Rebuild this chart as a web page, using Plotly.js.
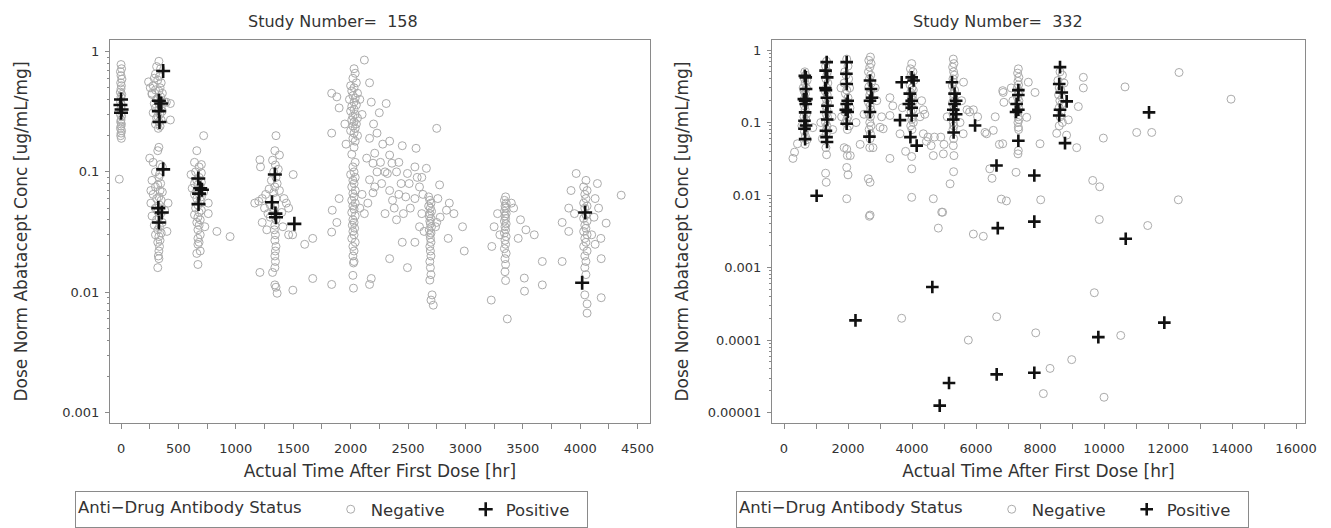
<!DOCTYPE html>
<html><head><meta charset="utf-8">
<script src="https://cdn.plot.ly/plotly-3.0.1.min.js"></script>
<style>html,body{margin:0;padding:0;background:#fff}#chart{width:1331px;height:528px}</style>
</head><body><div id="chart"></div>
<script>
// ---- Data: [time (hr), dose-normalized conc (ug/mL/mg)] ----
const studyNumbers = ['158', '332'];
const statusLabels = ['Negative', 'Positive'];

const study158Negative = [
 [0,0.78],[5,0.72],[-5,0.68],[0,0.63],[8,0.59],[-3,0.55],[3,0.52],[0,0.49],[-6,0.46],[6,0.44],[0,0.42],[-4,0.38],[4,0.36],[0,0.34],[-5,0.3],[5,0.29],[0,0.27],[-3,0.26],[3,0.25],[0,0.24],[-5,0.23],[5,0.22],[0,0.21],[-3,0.2],[3,0.19],[-15,0.087],
 [330,0.83],[310,0.75],[345,0.72],[300,0.65],[335,0.62],[290,0.6],[320,0.58],[350,0.55],[280,0.52],[340,0.5],[300,0.48],[330,0.47],[360,0.45],[270,0.44],[345,0.42],[320,0.41],[310,0.4],[380,0.38],[290,0.37],[335,0.36],[350,0.35],[300,0.34],[330,0.33],[360,0.32],[280,0.31],[340,0.3],[320,0.29],[310,0.28],[350,0.27],[330,0.26],[430,0.27],[300,0.25],[340,0.24],[325,0.23],[240,0.56],[270,0.45],[395,0.38],[255,0.5],[430,0.37],
 [330,0.16],[320,0.15],[250,0.13],[280,0.12],[340,0.115],[360,0.11],[300,0.1],[335,0.095],[330,0.09],[270,0.085],[345,0.08],[320,0.078],[300,0.075],[340,0.07],[360,0.068],[280,0.065],[330,0.062],[310,0.06],[350,0.058],[260,0.055],[335,0.053],[300,0.05],[380,0.048],[320,0.047],[345,0.045],[270,0.043],[330,0.042],[310,0.04],[360,0.038],[290,0.036],[335,0.035],[320,0.033],[400,0.032],[350,0.031],[300,0.03],[330,0.029],[340,0.027],[320,0.026],[335,0.024],[330,0.022],[325,0.02],[330,0.019],[320,0.016],[410,0.055],[260,0.07],
 [720,0.2],[660,0.15],[640,0.12],[700,0.115],[680,0.11],[650,0.1],[700,0.098],[610,0.095],[680,0.09],[660,0.085],[700,0.082],[640,0.08],[670,0.078],[690,0.075],[620,0.073],[660,0.07],[720,0.068],[680,0.066],[640,0.065],[700,0.062],[660,0.06],[690,0.058],[760,0.055],[670,0.053],[650,0.05],[700,0.048],[680,0.046],[640,0.044],[670,0.042],[690,0.04],[660,0.038],[680,0.036],[730,0.035],[835,0.032],[670,0.033],[950,0.029],[690,0.03],[670,0.028],[680,0.026],[670,0.025],[690,0.022],[660,0.021],[670,0.017],[760,0.045],
 [1210,0.126],[1215,0.11],[1350,0.2],[1340,0.15],[1380,0.138],[1320,0.125],[1345,0.114],[1370,0.105],[1500,0.095],[1330,0.1],[1350,0.09],[1310,0.085],[1360,0.08],[1340,0.075],[1290,0.072],[1380,0.07],[1330,0.067],[1165,0.055],[1200,0.057],[1230,0.06],[1260,0.065],[1250,0.05],[1300,0.053],[1420,0.06],[1440,0.055],[1460,0.05],[1350,0.06],[1340,0.052],[1330,0.048],[1345,0.044],[1350,0.04],[1340,0.036],[1335,0.033],[1345,0.03],[1340,0.027],[1350,0.024],[1345,0.022],[1340,0.02],[1345,0.018],[1340,0.016],[1270,0.033],[1230,0.038],[1300,0.042],[1410,0.035],[1460,0.03],[1495,0.03],[1600,0.025],[1670,0.028],[1210,0.0146],[1320,0.0146],[1340,0.0115],[1350,0.011],[1360,0.0098],[1497,0.0104],[1670,0.013],[1400,0.046],[1280,0.045],
 [1835,0.45],[1835,0.21],[1900,0.34],[1880,0.42],[2040,0.66],[2030,0.72],[2020,0.6],[2050,0.55],[2000,0.52],[2030,0.5],[2010,0.47],[2060,0.45],[2020,0.43],[2040,0.41],[1990,0.4],[2030,0.38],[2050,0.36],[2010,0.35],[2030,0.33],[2000,0.32],[2040,0.3],[2020,0.29],[2060,0.28],[2010,0.27],[2030,0.26],[2050,0.25],[2020,0.24],[2040,0.23],[2000,0.22],[2030,0.21],[2060,0.2],[2020,0.19],[2040,0.18],[1960,0.17],[2080,0.4],[2100,0.3],[1950,0.25],[2120,0.85],[2165,0.55],[2180,0.38],
 [2030,0.16],[2010,0.14],[2040,0.12],[2020,0.11],[2030,0.1],[2000,0.095],[2040,0.09],[2020,0.085],[2030,0.08],[2010,0.075],[2040,0.07],[2020,0.066],[2030,0.062],[2010,0.058],[2040,0.055],[2020,0.052],[2030,0.049],[2010,0.046],[2040,0.043],[2020,0.04],[2030,0.038],[2015,0.036],[2035,0.034],[2020,0.032],[2030,0.03],[2010,0.028],[2040,0.026],[2020,0.024],[2030,0.022],[2020,0.02],[2030,0.018],[2025,0.0175],[2020,0.0138],[2025,0.0108],[1835,0.0316],[1835,0.0116],[1840,0.048],[1900,0.06],[1880,0.038],[2080,0.05],[2100,0.065],
 [2165,0.19],[2140,0.13],[2210,0.143],[2195,0.118],[2340,0.138],[2360,0.118],[2320,0.097],[2340,0.07],[2365,0.058],[2495,0.097],[2510,0.08],[2480,0.062],[2520,0.05],[2660,0.107],[2620,0.09],[2680,0.062],[2775,0.078],[2835,0.048],[2750,0.038],[2165,0.086],[2195,0.067],[2150,0.055],[2120,0.045],[2250,0.31],[2310,0.37],[2340,0.18],[2450,0.165],[2570,0.157],[2750,0.23],[2200,0.25],[2230,0.21],[2280,0.17],[2260,0.12],[2300,0.1],[2270,0.08],[2420,0.12],[2400,0.1],[2440,0.08],[2420,0.065],[2560,0.11],[2580,0.09],[2600,0.075],[2560,0.06],[2230,0.1],[2210,0.075],[2380,0.05],[2460,0.045],[2340,0.019],[2495,0.016],[2165,0.0116],[2180,0.013],[2450,0.026],[2400,0.04],[2300,0.045],
 [2690,0.058],[2700,0.055],[2680,0.052],[2695,0.05],[2705,0.047],[2690,0.045],[2685,0.043],[2700,0.041],[2690,0.039],[2695,0.037],[2705,0.035],[2685,0.033],[2700,0.031],[2690,0.03],[2695,0.028],[2700,0.026],[2690,0.024],[2695,0.022],[2700,0.02],[2690,0.018],[2695,0.016],[2700,0.014],[2690,0.0126],[2710,0.0095],[2700,0.0086],[2720,0.0078],[2630,0.065],[2760,0.06],[2620,0.045],[2780,0.042],[2740,0.035],[2640,0.032],[2975,0.035],[2990,0.022],[2850,0.028],[2560,0.026],[2860,0.055],[2900,0.045],[2600,0.035],
 [3350,0.062],[3340,0.058],[3355,0.055],[3345,0.052],[3350,0.05],[3340,0.047],[3355,0.045],[3345,0.043],[3350,0.041],[3340,0.039],[3355,0.037],[3345,0.035],[3350,0.033],[3340,0.031],[3355,0.029],[3345,0.027],[3350,0.025],[3340,0.023],[3355,0.021],[3345,0.019],[3350,0.017],[3345,0.0148],[3350,0.0125],[3225,0.0086],[3365,0.006],[3513,0.0131],[3515,0.0102],[3670,0.018],[3670,0.0115],[3527,0.033],[3480,0.04],[3420,0.05],[3280,0.045],[3300,0.03],[3250,0.035],[3460,0.028],[3400,0.055],[3230,0.024],[3600,0.03],
 [3965,0.097],[4050,0.085],[4030,0.075],[4060,0.07],[4040,0.065],[4050,0.06],[4030,0.055],[4060,0.052],[4040,0.05],[4050,0.044],[4030,0.041],[4060,0.039],[4040,0.036],[4050,0.034],[4030,0.032],[4060,0.03],[4040,0.028],[4050,0.026],[4030,0.024],[4060,0.022],[4040,0.02],[4050,0.018],[4040,0.016],[4050,0.014],[4040,0.0095],[4060,0.008],[4060,0.0067],[4357,0.064],[4226,0.0375],[4183,0.019],[4183,0.009],[3843,0.018],[3843,0.038],[3900,0.05],[3920,0.07],[4130,0.06],[4160,0.05],[4120,0.042],[4150,0.08],[3900,0.032],[4100,0.03],[4130,0.025],[4180,0.028],[3950,0.045]
];
const study158Positive = [
 [0,0.40],[-5,0.36],[5,0.33],[0,0.31],
 [367,0.69],[330,0.39],[350,0.37],[330,0.32],[335,0.26],
 [367,0.105],[325,0.050],[355,0.046],[330,0.038],
 [673,0.088],[690,0.073],[705,0.071],[680,0.066],[675,0.054],
 [1340,0.095],[1315,0.056],[1345,0.045],[1350,0.042],[1510,0.037],
 [4043,0.046],[4017,0.012]
];
const study332Negative = [
 [650,0.5],[680,0.45],[640,0.4],[660,0.35],[700,0.3],[630,0.27],[670,0.25],[650,0.22],[690,0.19],[640,0.17],[660,0.15],[700,0.13],[620,0.12],[680,0.11],[650,0.095],[700,0.085],[640,0.075],[670,0.065],[720,0.058],[660,0.05],[420,0.051],[330,0.039],[280,0.032],[900,0.085],[560,0.09],[720,0.38],[600,0.3],
 [1330,0.7],[1300,0.6],[1360,0.5],[1340,0.45],[1310,0.4],[1370,0.35],[1330,0.3],[1290,0.27],[1350,0.24],[1320,0.21],[1360,0.19],[1300,0.17],[1340,0.15],[1320,0.13],[1360,0.12],[1300,0.1],[1340,0.09],[1330,0.08],[1320,0.07],[1310,0.045],[1330,0.036],[1300,0.02],[1320,0.015],[1150,0.1],[1500,0.12],[1520,0.08],[1200,0.06],
 [1960,0.75],[2000,0.6],[1900,0.5],[1940,0.45],[2020,0.4],[1880,0.35],[2050,0.3],[1960,0.28],[1920,0.25],[2000,0.22],[1980,0.19],[1940,0.17],[2060,0.16],[1900,0.14],[2000,0.12],[1960,0.11],[1920,0.1],[2040,0.09],[1980,0.08],[1960,0.043],[1980,0.035],[2070,0.035],[1960,0.024],[2000,0.019],[1960,0.0089],[1880,0.045],[1780,0.3],[1800,0.12],
 [2700,0.8],[2650,0.72],[2720,0.65],[2680,0.58],[2640,0.5],[2710,0.45],[2670,0.4],[2730,0.35],[2650,0.31],[2700,0.27],[2680,0.24],[2720,0.21],[2640,0.19],[2690,0.17],[2710,0.15],[2660,0.13],[2700,0.12],[2680,0.1],[2720,0.09],[2660,0.08],[2700,0.07],[2690,0.06],[2680,0.045],[2635,0.0168],[2690,0.015],[2690,0.0053],[3100,0.082],[3000,0.086],[3310,0.032],[3310,0.22],[3400,0.17],[3310,0.125],[3050,0.12],[2500,0.13],[2850,0.3],[2900,0.2],[2780,0.045],[2380,0.05],[2250,0.1],
 [3990,0.65],[3950,0.55],[4030,0.5],[3970,0.45],[4010,0.42],[4060,0.38],[3940,0.33],[4000,0.3],[4040,0.28],[3960,0.26],[4020,0.24],[3980,0.22],[4050,0.2],[3940,0.19],[4000,0.17],[4030,0.15],[3970,0.14],[4010,0.12],[3990,0.11],[4040,0.1],[3960,0.09],[4000,0.08],[3990,0.034],[3990,0.023],[3990,0.0093],[4666,0.0089],[4928,0.0058],[4354,0.07],[4500,0.063],[4450,0.055],[4666,0.035],[3625,0.07],[3700,0.16],[4300,0.2],[4350,0.15],[4400,0.13],[4250,0.12],[3800,0.04],[4600,0.048],[4700,0.063],
 [5290,0.75],[5310,0.65],[5270,0.58],[5300,0.5],[5320,0.45],[5280,0.4],[5300,0.36],[5260,0.32],[5330,0.28],[5290,0.25],[5310,0.22],[5270,0.19],[5300,0.17],[5320,0.15],[5280,0.13],[5300,0.12],[5290,0.1],[5310,0.09],[5280,0.08],[5300,0.06],[5290,0.048],[5310,0.035],[5190,0.0143],[5300,0.021],[5610,0.36],[5720,0.15],[5800,0.14],[5600,0.07],[4980,0.037],[5000,0.05],[4900,0.063],[5500,0.1],[5550,0.2],[5100,0.12],
 [6333,0.07],[6540,0.078],[6730,0.05],[6430,0.023],[6500,0.017],[6790,0.0088],[6950,0.0083],[6850,0.26],[6600,0.12],[5917,0.15],[6050,0.12],[6281,0.073],[6834,0.275],[6870,0.19],[6834,0.051],
 [2667,0.0051],[4957,0.0058],[4822,0.0035],[5917,0.0029],[6228,0.0027],[3677,0.0002],[6646,0.00021],[5760,0.0001],[9853,0.0046],[11365,0.0038],[9697,0.00045],[7866,0.000126],[10522,0.000116],[8990,0.0000538],[8313,0.0000407],[8104,0.0000183],[10000,0.0000163],[12322,0.0086],[8021,0.0086],
 [7323,0.55],[7300,0.48],[7340,0.42],[7310,0.37],[7330,0.33],[7290,0.3],[7350,0.27],[7320,0.25],[7300,0.22],[7340,0.2],[7310,0.18],[7330,0.16],[7300,0.14],[7320,0.12],[7340,0.11],[7310,0.1],[7323,0.086],[7330,0.08],[7323,0.041],[7310,0.037],[7250,0.0206],[7634,0.36],[7844,0.26],[7584,0.118],[8000,0.051],[7100,0.3],[7150,0.2],
 [8625,0.5],[8700,0.45],[8560,0.38],[8750,0.35],[8600,0.3],[8650,0.28],[8580,0.24],[8700,0.22],[8620,0.2],[8680,0.18],[8600,0.16],[8660,0.14],[8630,0.12],[8700,0.1],[8600,0.09],[9354,0.42],[9354,0.3],[9197,0.166],[9146,0.045],[8521,0.071],[8885,0.109],[9979,0.061],[9646,0.0159],[9865,0.013],[10656,0.31],[11021,0.073],[11490,0.073],[12344,0.49],[13969,0.21],[8830,0.067]
];
const study332Positive = [
 [680,0.42],[650,0.44],[690,0.29],[620,0.21],[660,0.2],[700,0.21],[680,0.18],[660,0.138],[640,0.106],[690,0.091],[640,0.082],[660,0.059],
 [1020,0.0098],
 [1334,0.68],[1300,0.52],[1350,0.42],[1310,0.28],[1290,0.3],[1340,0.22],[1360,0.17],[1320,0.14],[1350,0.11],[1310,0.077],[1330,0.063],[1345,0.054],
 [1959,0.68],[1950,0.47],[1960,0.34],[1990,0.2],[1959,0.18],[1930,0.15],[1990,0.14],[1959,0.096],
 [2687,0.38],[2720,0.29],[2687,0.2],[2750,0.22],[2687,0.14],[2670,0.064],
 [3678,0.36],[4050,0.38],[3990,0.42],[3930,0.25],[3990,0.2],[3900,0.18],[3990,0.16],[3990,0.125],[3625,0.108],[3950,0.063],[4146,0.048],
 [5250,0.36],[5330,0.25],[5380,0.2],[5330,0.18],[5290,0.15],[5380,0.13],[5290,0.11],[5300,0.073],[5970,0.091],
 [6640,0.0255],[6680,0.0035],[4635,0.00054],[2234,0.000187],[5156,0.0000256],[6646,0.0000337],[4866,0.0000125],
 [7822,0.0186],[7822,0.0043],[10678,0.0025],[11884,0.000174],[9822,0.00011],[7822,0.0000355],
 [7323,0.28],[7323,0.24],[7270,0.18],[7323,0.15],[7250,0.14],[7323,0.056],
 [8625,0.58],[8600,0.34],[8680,0.26],[8834,0.196],[8625,0.15],[8600,0.125],[8781,0.052],
 [11406,0.138]
];

const yTicks158 = [0.001, 0.01, 0.1, 1];
const yTickText158 = ['0.001', '0.01', '0.1', '1'];
const yTicks332 = [0.00001, 0.0001, 0.001, 0.01, 0.1, 1];
const yTickText332 = ['0.00001', '0.0001', '0.001', '0.01', '0.1', '1'];

// ---- Styling ----
const FONT = 'DejaVu Sans, sans-serif';
const TXT = '#333333';
const AX = '#8a8a8a';
const W = 1331, H = 528;

function minorLog(lo, hi) {
  const v = [];
  for (let d = lo; d < hi; d++) for (let k = 2; k <= 9; k++) v.push(k * Math.pow(10, d));
  return v;
}
const col = (arr, i) => arr.map(p => p[i]);

const negMarker = {symbol: 'circle-open', size: 8, color: '#ababab', line: {width: 1, color: '#ababab'}};
const posMarker = (s) => ({symbol: 'cross-thin-open', size: s, color: '#111', line: {width: 2.6, color: '#111'}});

const traces = [
  {type: 'scatter', mode: 'markers', name: statusLabels[0], x: col(study158Negative, 0), y: col(study158Negative, 1), xaxis: 'x', yaxis: 'y', marker: negMarker, legend: 'legend'},
  {type: 'scatter', mode: 'markers', name: statusLabels[1], x: col(study158Positive, 0), y: col(study158Positive, 1), xaxis: 'x', yaxis: 'y', marker: posMarker(10), legend: 'legend', legendwidth: 76},
  {type: 'scatter', mode: 'markers', name: statusLabels[0], x: col(study332Negative, 0), y: col(study332Negative, 1), xaxis: 'x2', yaxis: 'y2', marker: negMarker, legend: 'legend2'},
  {type: 'scatter', mode: 'markers', name: statusLabels[1], x: col(study332Positive, 0), y: col(study332Positive, 1), xaxis: 'x2', yaxis: 'y2', marker: posMarker(9), legend: 'legend2', legendwidth: 76}
];

const xTitle = 'Actual Time After First Dose [hr]';
const yTitle = 'Dose Norm Abatacept Conc [ug/mL/mg]';
const legendTitle = 'Anti\u2212Drug Antibody Status\u00a0\u00a0\u00a0\u00a0';

const base = {
  showline: true, mirror: true, linecolor: AX, linewidth: 1,
  ticks: 'outside', tickcolor: AX, ticklen: 5, tickwidth: 1,
  showgrid: false, zeroline: false, automargin: false,
  tickfont: {family: FONT, size: 13, color: TXT}
};
const yDom = [1 - 423 / H, 1 - 40 / H];

const legendCommon = {
  orientation: 'h', y: 1 - 491 / H, xanchor: 'left', yanchor: 'top',
  bordercolor: AX, borderwidth: 1, bgcolor: '#fff', entrywidth: 90, entrywidthmode: 'pixels',
  font: {family: FONT, size: 16.5, color: TXT}, itemclick: false
};

const layout = {
  width: W, height: H,
  margin: {l: 0, r: 0, t: 0, b: 0, pad: 0},
  paper_bgcolor: '#fff', plot_bgcolor: '#fff',
  showlegend: true,
  font: {family: FONT, color: TXT},
  xaxis: Object.assign({}, base, {
    domain: [110 / W, 650 / W], range: [-96, 4608], dtick: 500, tick0: 0, tickformat: 'd',
    ticklabelstandoff: 8,
    minor: {dtick: 250, ticks: 'outside', ticklen: 5, tickcolor: AX},
    title: {text: xTitle, font: {family: FONT, size: 17, color: TXT}, standoff: 10},
    anchor: 'y'
  }),
  yaxis: Object.assign({}, base, {
    domain: yDom, type: 'log', range: [-3.087, 0.096],
    tickmode: 'array', tickvals: yTicks158, ticktext: yTickText158, ticklen: 4,
    ticklabelstandoff: 3,
    minor: {tickmode: 'array', tickvals: minorLog(-3, 0), ticks: 'outside', ticklen: 2, tickcolor: AX},
    title: {text: yTitle, font: {family: FONT, size: 17, color: TXT}, standoff: 30},
    anchor: 'x'
  }),
  xaxis2: Object.assign({}, base, {
    domain: [772 / W, 1305 / W], range: [-375, 16280], dtick: 2000, tick0: 0, tickformat: 'd',
    ticklabelstandoff: 8,
    minor: {dtick: 1000, ticks: 'outside', ticklen: 5, tickcolor: AX},
    title: {text: xTitle, font: {family: FONT, size: 17, color: TXT}, standoff: 10},
    anchor: 'y2'
  }),
  yaxis2: Object.assign({}, base, {
    domain: yDom, type: 'log', range: [-5.143, 0.138],
    tickmode: 'array', tickvals: yTicks332, ticktext: yTickText332, ticklen: 4,
    ticklabelstandoff: 3,
    minor: {tickmode: 'array', tickvals: minorLog(-5, 0), ticks: 'outside', ticklen: 2, tickcolor: AX},
    title: {text: yTitle, font: {family: FONT, size: 17, color: TXT}, standoff: 14},
    anchor: 'x2'
  }),
  legend: Object.assign({}, legendCommon, {
    x: 75 / W,
    title: {text: legendTitle, font: {family: FONT, size: 16.5, color: TXT}, side: 'left'}
  }),
  legend2: Object.assign({}, legendCommon, {
    x: 736 / W,
    title: {text: legendTitle, font: {family: FONT, size: 16.5, color: TXT}, side: 'left'}
  }),
  annotations: [
    {text: 'Study Number=  ' + studyNumbers[0], xref: 'paper', yref: 'paper', x: 0.25, y: 1 - 21 / H, xanchor: 'center', yanchor: 'middle', showarrow: false, font: {family: FONT, size: 16, color: TXT}},
    {text: 'Study Number=  ' + studyNumbers[1], xref: 'paper', yref: 'paper', x: 0.75, y: 1 - 21 / H, xanchor: 'center', yanchor: 'middle', showarrow: false, font: {family: FONT, size: 16, color: TXT}}
  ]
};

Plotly.newPlot('chart', traces, layout, {displayModeBar: false, staticPlot: true});
</script>
</body></html>
